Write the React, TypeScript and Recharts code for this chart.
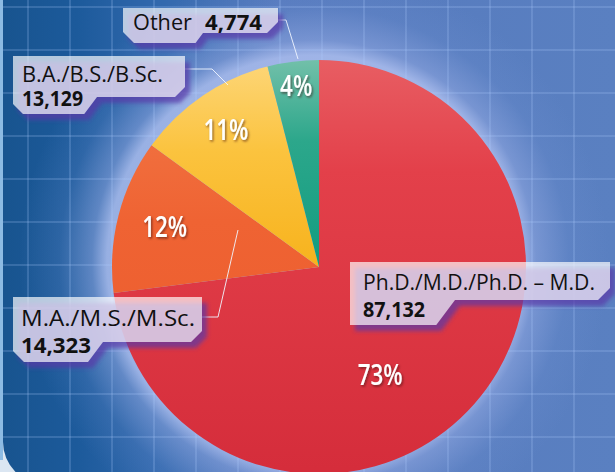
import { PieChart, Pie, Cell } from "recharts";

const categories = [
  "Ph.D./M.D./Ph.D. – M.D.",
  "M.A./M.S./M.Sc.",
  "B.A./B.S./B.Sc.",
  "Other",
];
const graduates = [87132, 14323, 13129, 4774];
const sliceFills = ["url(#gRed)", "url(#gOrange)", "url(#gYellow)", "url(#gTeal)"];

const data = categories.map((name, i) => ({ name, value: graduates[i] }));

// where the percent figures sit: fraction of radius, angle (null = slice middle)
const pctSpots = [
  { r: 0.6, angle: -60.5 },
  { r: 0.77, angle: null },
  { r: 0.8, angle: null },
  { r: 0.88, angle: null },
];

// callout boxes, chart pixels
const callouts: any[] = [
  { x: 350, y: 262, w: 260, h1: 38, h: 63, w2: 105, c: 12, cutLeft: false, tx: 13, b1: 28, b2: 55, l1: 232, l2: 62, leader: null },
  { x: 13, y: 297, w: 189, h1: 45, h: 65, w2: 90, c: 11, cutLeft: true, tx: 8, b1: 29, b2: 56, l1: 174, l2: 70, leader: [[202, 317], [218, 317], [238, 230]] },
  { x: 13, y: 56, w: 172, h1: 41, h: 58, w2: 84, c: 10, cutLeft: true, tx: 9, b1: 26, b2: 50, l1: 141, l2: 61, leader: [[185, 69], [212, 69], [228, 85]] },
  { x: 123, y: 8, w: 155, h1: 25, h: 35, w2: 80, c: 11, cutLeft: true, tx: 10, b1: 22, l1: 59, l2: 57, inline: 82, leader: [[278, 20], [286, 20], [298, 59]] },
];

const boxFont = "'Open Sans', 'Noto Sans', sans-serif";

function boxPoints(b: any, dx = 0, dy = 0) {
  const { x, y, w, h1, h, w2, c, cutLeft } = b;
  const slant = (h - h1) * 0.75;
  const lc = cutLeft ? c : 0;
  const pts = [
    [x, y],
    [x + w, y],
    [x + w, y + h1 - c],
    [x + w - c, y + h1],
    [x + w2, y + h1],
    [x + w2 - slant, y + h],
    [x + lc, y + h],
    [x, y + h - lc],
  ];
  return pts.map(([px, py]) => `${px + dx},${py + dy}`).join(" ");
}

function renderLabel(props: any) {
  const { cx, cy, midAngle, outerRadius, percent, index, name, value } = props;
  const RAD = Math.PI / 180;
  const spot = pctSpots[index];
  const ang = spot.angle ?? midAngle;
  const r = outerRadius * spot.r;
  const px = cx + r * Math.cos(-ang * RAD);
  const py = cy + r * Math.sin(-ang * RAD);
  const b = callouts[index];
  const valueText = Number(value).toLocaleString("en-US");

  return (
    <g key={`lbl-${index}`}>
      {b.leader && (
        <polyline
          points={b.leader.map((p: number[]) => p.join(",")).join(" ")}
          fill="none"
          stroke="rgba(240,245,255,0.9)"
          strokeWidth={1}
        />
      )}
      <polygon points={boxPoints(b, 5, 6)} fill="rgba(88,56,168,0.7)" filter="url(#boxBlur)" />
      <polygon points={boxPoints(b)} fill="rgba(255,255,255,0.68)" />
      <text
        x={b.x + b.tx}
        y={b.y + b.b1}
        fontFamily={boxFont}
        fontSize={22}
        fill="#111"
        textLength={b.l1}
        lengthAdjust="spacingAndGlyphs"
      >
        {name}
      </text>
      <text
        x={b.inline ? b.x + b.inline : b.x + b.tx}
        y={b.inline ? b.y + b.b1 : b.y + b.b2}
        fontFamily={boxFont}
        fontSize={22}
        fontWeight={700}
        fill="#111"
        textLength={b.l2}
        lengthAdjust="spacingAndGlyphs"
      >
        {valueText}
      </text>
      <text
        transform={`translate(${px},${py + 10}) scale(0.8,1)`}
        textAnchor="middle"
        fontFamily={boxFont}
        fontSize={28}
        fontWeight={600}
        fill="#fff"
        filter="url(#pctShadow)"
      >
        {`${Math.round(percent * 100)}%`}
      </text>
    </g>
  );
}

export default function App() {
  return (
    <div
      style={{
        position: "absolute",
        left: 0,
        top: 0,
        width: 615,
        height: 472,
        overflow: "hidden",
        background: "#dbe6f2",
      }}
    >
      <div
        style={{
          position: "absolute",
          left: 3,
          top: 0,
          right: 0,
          bottom: -12,
          borderBottomLeftRadius: 42,
          background: [
            "repeating-linear-gradient(90deg, transparent 0 24px, rgba(175,205,255,0.2) 24px 26px, transparent 26px 42px)",
            "repeating-linear-gradient(180deg, transparent 0 6px, rgba(175,205,255,0.2) 6px 8px, transparent 8px 43px)",
            "radial-gradient(circle at 311px 262px, rgba(172,190,238,0.92) 0px, rgba(172,190,238,0.85) 207px, rgba(145,168,225,0.55) 222px, rgba(115,148,212,0.2) 255px, rgba(90,128,192,0) 295px)",
            "linear-gradient(90deg, #18548f 0%, #1c5a9b 12%, #3168ad 25%, #5579bd 45%, #5a80c1 100%)",
          ].join(","),
        }}
      />
      <div style={{ position: "absolute", left: 0, top: 0, width: 3, height: 460, background: "#8dbbe3" }} />

      <svg width={0} height={0} style={{ position: "absolute" }}>
        <defs>
          <linearGradient id="gRed" gradientUnits="userSpaceOnUse" x1={0} y1={55} x2={0} y2={470}>
            <stop offset="0%" stopColor="#e85f64" />
            <stop offset="28%" stopColor="#e3404a" />
            <stop offset="100%" stopColor="#d52d3b" />
          </linearGradient>
          <linearGradient id="gOrange" gradientUnits="userSpaceOnUse" x1={0} y1={55} x2={0} y2={470}>
            <stop offset="0%" stopColor="#f27c4a" />
            <stop offset="40%" stopColor="#ef6333" />
            <stop offset="100%" stopColor="#eb5a2c" />
          </linearGradient>
          <linearGradient id="gYellow" gradientUnits="userSpaceOnUse" x1={0} y1={55} x2={0} y2={270}>
            <stop offset="0%" stopColor="#fdd77c" />
            <stop offset="45%" stopColor="#fbc33e" />
            <stop offset="100%" stopColor="#f7b21c" />
          </linearGradient>
          <linearGradient id="gTeal" gradientUnits="userSpaceOnUse" x1={0} y1={55} x2={0} y2={270}>
            <stop offset="0%" stopColor="#76c1ab" />
            <stop offset="40%" stopColor="#2ca78b" />
            <stop offset="100%" stopColor="#119c80" />
          </linearGradient>
          <filter id="boxBlur" x="-10%" y="-20%" width="130%" height="160%">
            <feGaussianBlur stdDeviation={2} />
          </filter>
          <filter id="pctShadow" x="-30%" y="-30%" width="160%" height="160%">
            <feDropShadow dx={1.5} dy={1.5} stdDeviation={1.2} floodColor="#3a0a10" floodOpacity={0.6} />
          </filter>
        </defs>
      </svg>

      <div style={{ position: "absolute", left: 0, top: 0 }}>
        <PieChart width={615} height={472}>
          <Pie
            data={data}
            dataKey="value"
            nameKey="name"
            cx={314}
            cy={262}
            outerRadius={207}
            startAngle={90}
            endAngle={-270}
            stroke="none"
            label={renderLabel}
            labelLine={false}
            isAnimationActive={false}
          >
            {data.map((_, i) => (
              <Cell key={i} fill={sliceFills[i]} />
            ))}
          </Pie>
        </PieChart>
      </div>
    </div>
  );
}
